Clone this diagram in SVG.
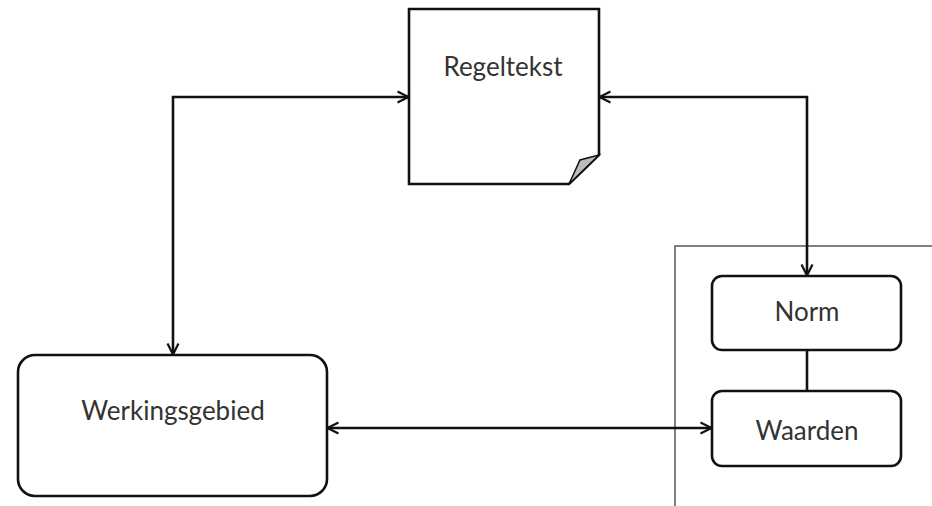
<svg xmlns="http://www.w3.org/2000/svg" width="932" height="506" viewBox="0 0 932 506">
<defs>
<marker id="arr" viewBox="0 0 14 14" refX="13" refY="7" markerWidth="14" markerHeight="14" markerUnits="userSpaceOnUse" orient="auto-start-reverse">
<path d="M1.5,1.5 L12.5,7 L1.5,12.5" fill="none" stroke="#111" stroke-width="2.2"/>
</marker>
<style>
.box{fill:#fff;stroke:#111;stroke-width:2.6}
.lbl{font-family:"Lato","Open Sans",sans-serif;font-size:26px;fill:#333;text-anchor:middle}
.con{fill:none;stroke:#111;stroke-width:2.6}
</style>
</defs>
<rect width="932" height="506" fill="#fff"/>
<g id="container">
<path d="M675,506 L675,246 L932,246" fill="none" stroke="#555" stroke-width="1.5"/>
</g>
<g id="regeltekst">
<path class="box" d="M409,9 L599,9 L599,155 L569,184 L409,184 Z"/>
<path d="M599,155 L580,160 L569,184 Z" fill="#bbb" stroke="#111" stroke-width="1.5"/>
<text class="lbl" x="503" y="76">Regeltekst</text>
</g>
<g id="werkingsgebied">
<rect class="box" x="18" y="355" width="309" height="141" rx="17"/>
<text class="lbl" x="173" y="420">Werkingsgebied</text>
</g>
<g id="norm">
<rect class="box" x="712" y="276" width="189" height="74" rx="10"/>
<text class="lbl" x="807" y="321">Norm</text>
</g>
<g id="waarden">
<rect class="box" x="712" y="391" width="189" height="75" rx="10"/>
<text class="lbl" x="807" y="440">Waarden</text>
</g>
<g id="connectors">
<path class="con" d="M173,355 L173,97 L409,97" marker-start="url(#arr)" marker-end="url(#arr)"/>
<path class="con" d="M599,97 L807,97 L807,276" marker-start="url(#arr)" marker-end="url(#arr)"/>
<path class="con" d="M327,428 L712,428" marker-start="url(#arr)" marker-end="url(#arr)"/>
<path class="con" d="M807,350 L807,391"/>
</g>
</svg>
